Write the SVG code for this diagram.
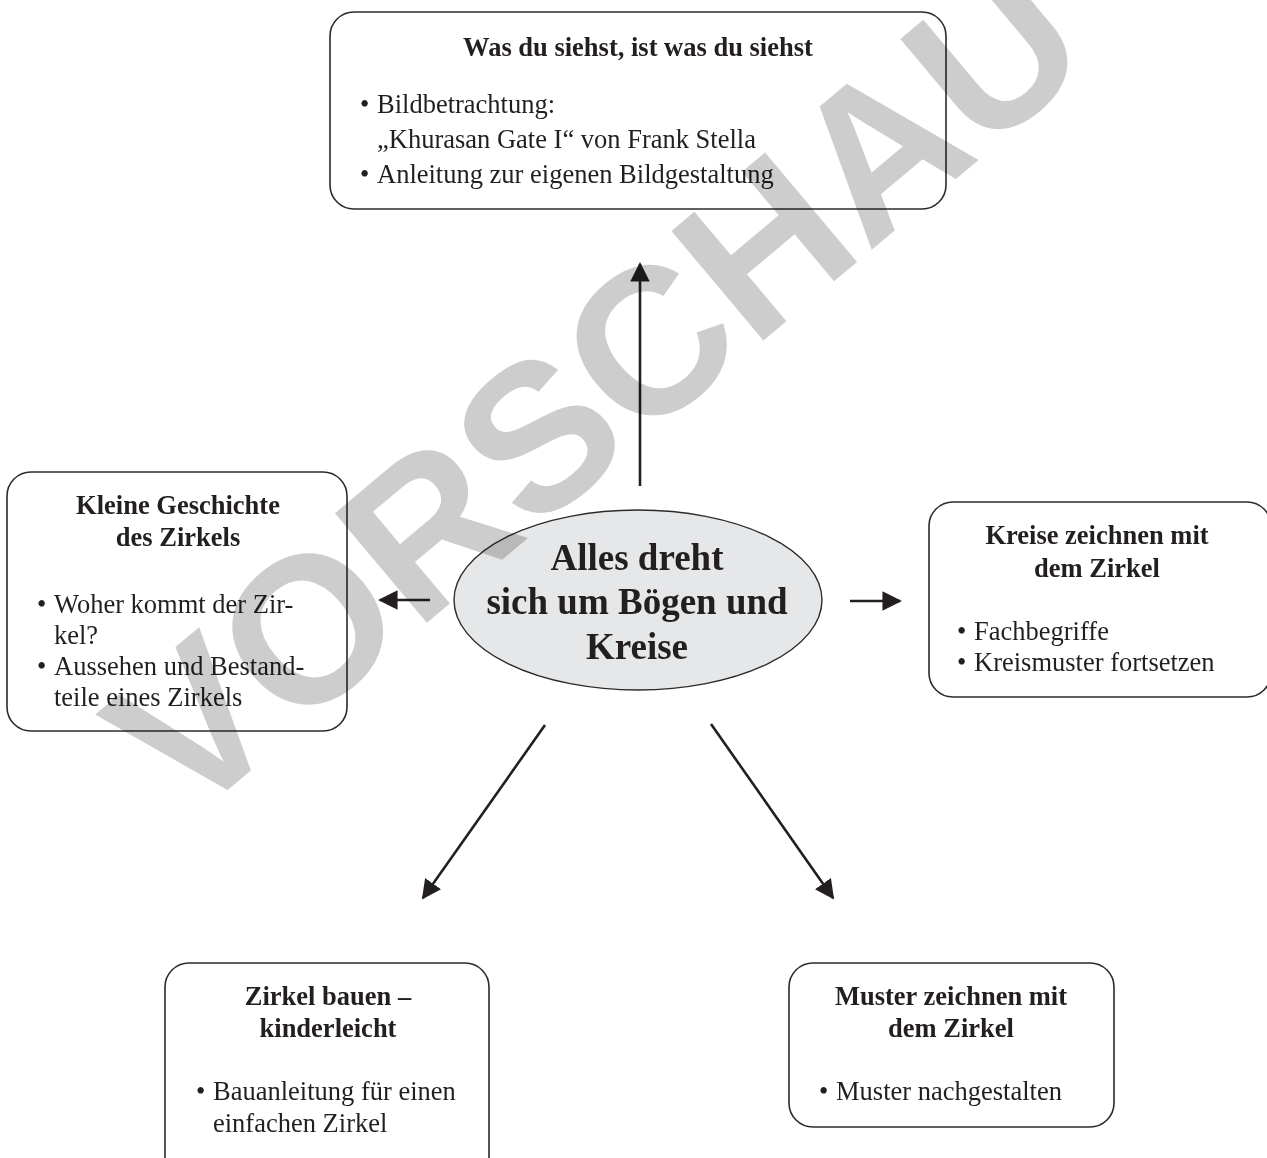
<svg xmlns="http://www.w3.org/2000/svg" width="1267" height="1158" viewBox="0 0 1267 1158">
<style>
.box{fill:none;stroke:#2b2b2b;stroke-width:1.6}
.t{font-family:"Liberation Serif","Times New Roman",serif;font-size:26.5px;fill:#231f20}
.b{font-weight:bold}
.c{text-anchor:middle}
.big{font-family:"Liberation Serif","Times New Roman",serif;font-size:37px;font-weight:bold;fill:#231f20;text-anchor:middle}
.con{stroke:#231f20;stroke-width:2.6;fill:none;marker-end:url(#ah)}
.wm{font-family:"Liberation Sans",Arial,sans-serif;font-weight:bold;font-size:208px;fill:#cdcdcd;mix-blend-mode:multiply}
</style>
<defs>
<marker id="ah" viewBox="0 0 10 10" refX="9" refY="5" markerWidth="7.5" markerHeight="7.5" markerUnits="strokeWidth" orient="auto">
<path d="M0,0 L10,5 L0,10 z" fill="#231f20"/>
</marker>
</defs>
<rect width="1267" height="1158" fill="#ffffff"/>

<g id="n-top">
<rect class="box" x="330" y="12" width="616" height="197" rx="24"/>
<text class="t b c" x="638" y="56">Was du siehst, ist was du siehst</text>
<text class="t" x="360" y="113">•</text>
<text class="t" x="377" y="113">Bildbetrachtung:</text>
<text class="t" x="377" y="148">„Khurasan Gate I“ von Frank Stella</text>
<text class="t" x="360" y="183">•</text>
<text class="t" x="377" y="183">Anleitung zur eigenen Bildgestaltung</text>
</g>

<g id="n-left">
<rect class="box" x="7" y="472" width="340" height="259" rx="24"/>
<text class="t b c" x="178" y="514">Kleine Geschichte</text>
<text class="t b c" x="178" y="546">des Zirkels</text>
<text class="t" x="37" y="613">•</text>
<text class="t" x="54" y="613">Woher kommt der Zir-</text>
<text class="t" x="54" y="644">kel?</text>
<text class="t" x="37" y="675">•</text>
<text class="t" x="54" y="675">Aussehen und Bestand-</text>
<text class="t" x="54" y="706">teile eines Zirkels</text>
</g>

<g id="n-center">
<ellipse cx="638" cy="600" rx="184" ry="90" fill="#e6e7e8" stroke="#2b2b2b" stroke-width="1.4"/>
<text class="big" x="637" y="570">Alles dreht</text>
<text class="big" x="637" y="614">sich um Bögen und</text>
<text class="big" x="637" y="659">Kreise</text>
</g>

<g id="n-right">
<rect class="box" x="929" y="502" width="342" height="195" rx="24"/>
<text class="t b c" x="1097" y="544">Kreise zeichnen mit</text>
<text class="t b c" x="1097" y="577">dem Zirkel</text>
<text class="t" x="957" y="640">•</text>
<text class="t" x="974" y="640">Fachbegriffe</text>
<text class="t" x="957" y="671">•</text>
<text class="t" x="974" y="671">Kreismuster fortsetzen</text>
</g>

<g id="n-bottom-left">
<rect class="box" x="165" y="963" width="324" height="220" rx="24"/>
<text class="t b c" x="328" y="1005">Zirkel bauen –</text>
<text class="t b c" x="328" y="1037">kinderleicht</text>
<text class="t" x="196" y="1100">•</text>
<text class="t" x="213" y="1100">Bauanleitung für einen</text>
<text class="t" x="213" y="1132">einfachen Zirkel</text>
</g>

<g id="n-bottom-right">
<rect class="box" x="789" y="963" width="325" height="164" rx="24"/>
<text class="t b c" x="951" y="1005">Muster zeichnen mit</text>
<text class="t b c" x="951" y="1037">dem Zirkel</text>
<text class="t" x="819" y="1100">•</text>
<text class="t" x="836" y="1100">Muster nachgestalten</text>
</g>

<g id="connectors">
<line class="con" x1="640" y1="486" x2="640" y2="264"/>
<line class="con" x1="430" y1="600" x2="380" y2="600"/>
<line class="con" x1="850" y1="601" x2="900" y2="601"/>
<line class="con" x1="545" y1="725" x2="423" y2="898"/>
<line class="con" x1="711" y1="724" x2="833" y2="898"/>
</g>

<text class="wm" transform="translate(186,825) rotate(-40)">VORSCHAU</text>
</svg>
